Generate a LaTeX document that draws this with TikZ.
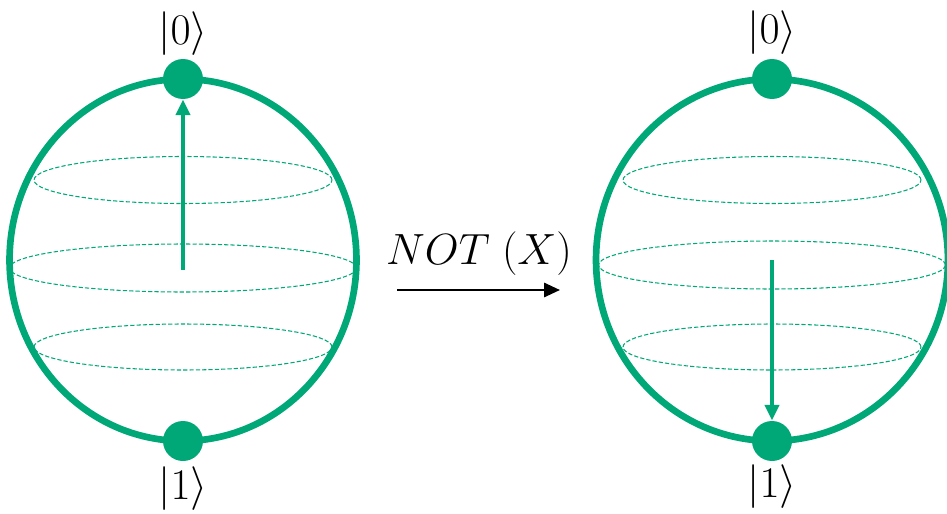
\documentclass[tikz,border=0pt]{standalone}
\usetikzlibrary{arrows.meta,positioning}
\definecolor{qgreen}{HTML}{00A878}
\tikzset{sphere/.style={draw=qgreen,line width=3.8pt},ring/.style={draw=qgreen,line width=0.6pt,dash pattern=on 2.4pt off 1.2pt},pole/.style={circle,fill=qgreen,minimum size=0.8cm,inner sep=0pt},ket/.style={font=\fontsize{25}{27}\selectfont,inner sep=0pt},state/.style={draw=qgreen,line width=2.3pt,-{Triangle[length=9pt,width=8pt]}},arrow/.style={-{Triangle[length=9pt,width=8pt]},line width=1.4pt}}
\begin{document}
\begin{tikzpicture}[x=0.02cm,y=0.02cm]
\useasboundingbox (0,0) rectangle (947,-514);
\foreach \cx/\m/\r in {183/268/3.47,772/265/3.52}{\draw[sphere] (\cx,-260) ellipse [x radius=\r cm,y radius=3.62cm];
\draw[ring] (\cx,-180) ellipse [x radius=2.98cm,y radius=0.47cm];
\draw[ring] (\cx,-\m) ellipse [x radius=3.47cm,y radius=0.48cm];
\draw[ring] (\cx,-347) ellipse [x radius=2.98cm,y radius=0.46cm];}
\node[pole] (a0) at (183,-79) {};
\node[pole] (a1) at (183,-441) {};
\node[pole] (b0) at (772,-79) {};
\node[pole] (b1) at (772,-441) {};
\node[ket,above=0.06cm of a0] (ka0) {$|0\rangle$};
\node[ket,below=0.1cm of a1] (ka1) {$|1\rangle$};
\node[ket,above=0.08cm of b0] (kb0) {$|0\rangle$};
\node[ket,below=0.06cm of b1] (kb1) {$|1\rangle$};
\coordinate (ac) at (183,-270);
\coordinate (bc) at (772,-260);
\draw[state] (ac)--(a0);
\draw[state] (bc)--(b1);
\node[font=\fontsize{30}{32}\selectfont,inner sep=0pt] (gate) at (479,-254) {$NOT\;(X)$};
\coordinate (g0) at (397,-290);
\coordinate (g1) at (560,-290);
\draw[arrow] (g0)--(g1);
\end{tikzpicture}
\end{document}
